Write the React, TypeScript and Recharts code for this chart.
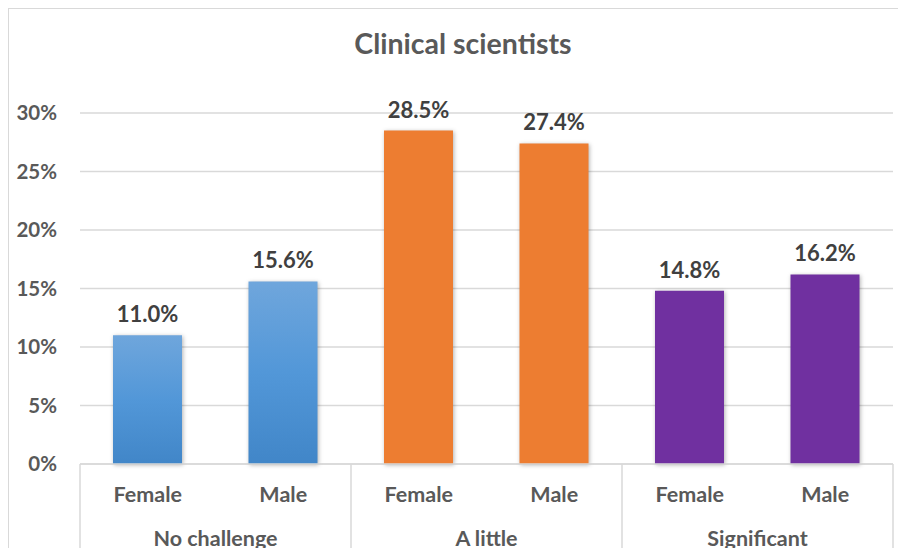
import React from 'react';
import { BarChart, Bar, XAxis, YAxis, CartesianGrid, Cell, LabelList } from 'recharts';

const subLabels = ['Female', 'Male', 'Female', 'Male', 'Female', 'Male'];
const groupLabels = ['No challenge', 'No challenge', 'A little', 'A little', 'Significant', 'Significant'];
const values = [0.11, 0.156, 0.285, 0.274, 0.148, 0.162];
const barFills = ['url(#blueGrad)', 'url(#blueGrad)', '#ED7D31', '#ED7D31', '#7030A0', '#7030A0'];
const yTicks = [0, 0.05, 0.1, 0.15, 0.2, 0.25, 0.3];

const data = subLabels.map((sub, i) => ({ sub, group: groupLabels[i], value: values[i] }));

const FONT = "Lato, 'Open Sans', sans-serif";
const GRID = '#d9d9d9';
const TEXT = '#595959';

const pct = (v: number) => `${Math.round(v * 100)}%`;

// sub-category tick, also draws the group divider lines
const SubTick = (props: any) => {
  const { x, y, payload, index, width } = props;
  const half = payload.offset ?? width / 12;
  return (
    <g>
      {index === 0 && <line x1={x - half} x2={x - half} y1={y} y2={y + 120} stroke={GRID} strokeWidth={1.5} />}
      {index % 2 === 1 && <line x1={x + half} x2={x + half} y1={y} y2={y + 120} stroke={GRID} strokeWidth={1.5} />}
      <text x={x} y={y + 30} textAnchor="middle" dominantBaseline="central" fill={TEXT} fontSize={21.5} fontWeight={700} fontFamily={FONT}>
        {payload.value}
      </text>
    </g>
  );
};

const GroupTick = (props: any) => {
  const { x, y, payload } = props;
  return (
    <text x={x} y={y + 37} textAnchor="middle" fill={TEXT} fontSize={21.5} fontWeight={700} fontFamily={FONT}>
      {payload.value}
    </text>
  );
};

export default function App() {
  return (
    <div style={{ position: 'relative', width: 890, height: 548, marginBottom: -8, overflow: 'hidden', fontFamily: FONT }}>
      <div style={{ position: 'absolute', left: -1, top: -1, width: 900, height: 600, borderLeft: `2px solid ${GRID}`, borderTop: `2px solid ${GRID}`, boxSizing: 'border-box' }} />
      <div style={{ position: 'absolute', left: 0, width: 910, top: 18, textAlign: 'center', fontSize: 28.5, fontWeight: 700, color: TEXT }}>
        Clinical scientists
      </div>
      <BarChart width={890} height={548} data={data} margin={{ top: 105, right: 5, left: 0, bottom: 8 }}>
        <defs>
          <linearGradient id="blueGrad" x1="0" y1="0" x2="0" y2="1">
            <stop offset="0%" stopColor="#6FA6DC" />
            <stop offset="50%" stopColor="#5297D8" />
            <stop offset="100%" stopColor="#4186C8" />
          </linearGradient>
        </defs>
        <CartesianGrid vertical={false} stroke={GRID} strokeWidth={1.5} />
        <YAxis
          domain={[0, 0.3]}
          ticks={yTicks}
          tickFormatter={pct}
          width={72}
          axisLine={false}
          tickLine={false}
          tickSize={0}
          tickMargin={23}
          tick={{ fill: TEXT, fontSize: 20.5, fontWeight: 700, fontFamily: FONT }}
        />
        <XAxis
          dataKey="sub"
          height={45}
          axisLine={{ stroke: GRID, strokeWidth: 1.5 }}
          tickLine={false}
          tickSize={0}
          tickMargin={0}
          interval={0}
          tick={<SubTick />}
        />
        <XAxis
          xAxisId="group"
          dataKey="group"
          allowDuplicatedCategory={false}
          height={39}
          axisLine={false}
          tickLine={false}
          tickSize={0}
          tickMargin={0}
          interval={0}
          tick={<GroupTick />}
        />
        <Bar dataKey="value" barSize={69} isAnimationActive={false}>
          {data.map((d, i) => (
            <Cell key={d.sub + i} fill={barFills[i]} style={{ filter: 'drop-shadow(1px 1px 2px rgba(0,0,0,0.3))' }} />
          ))}
          <LabelList
            dataKey="value"
            position="top"
            offset={13}
            formatter={(v: any) => `${(Number(v) * 100).toFixed(1)}%`}
            fill="#404040"
            fontSize={22}
            fontWeight={700}
            fontFamily={FONT}
          />
        </Bar>
      </BarChart>
    </div>
  );
}
